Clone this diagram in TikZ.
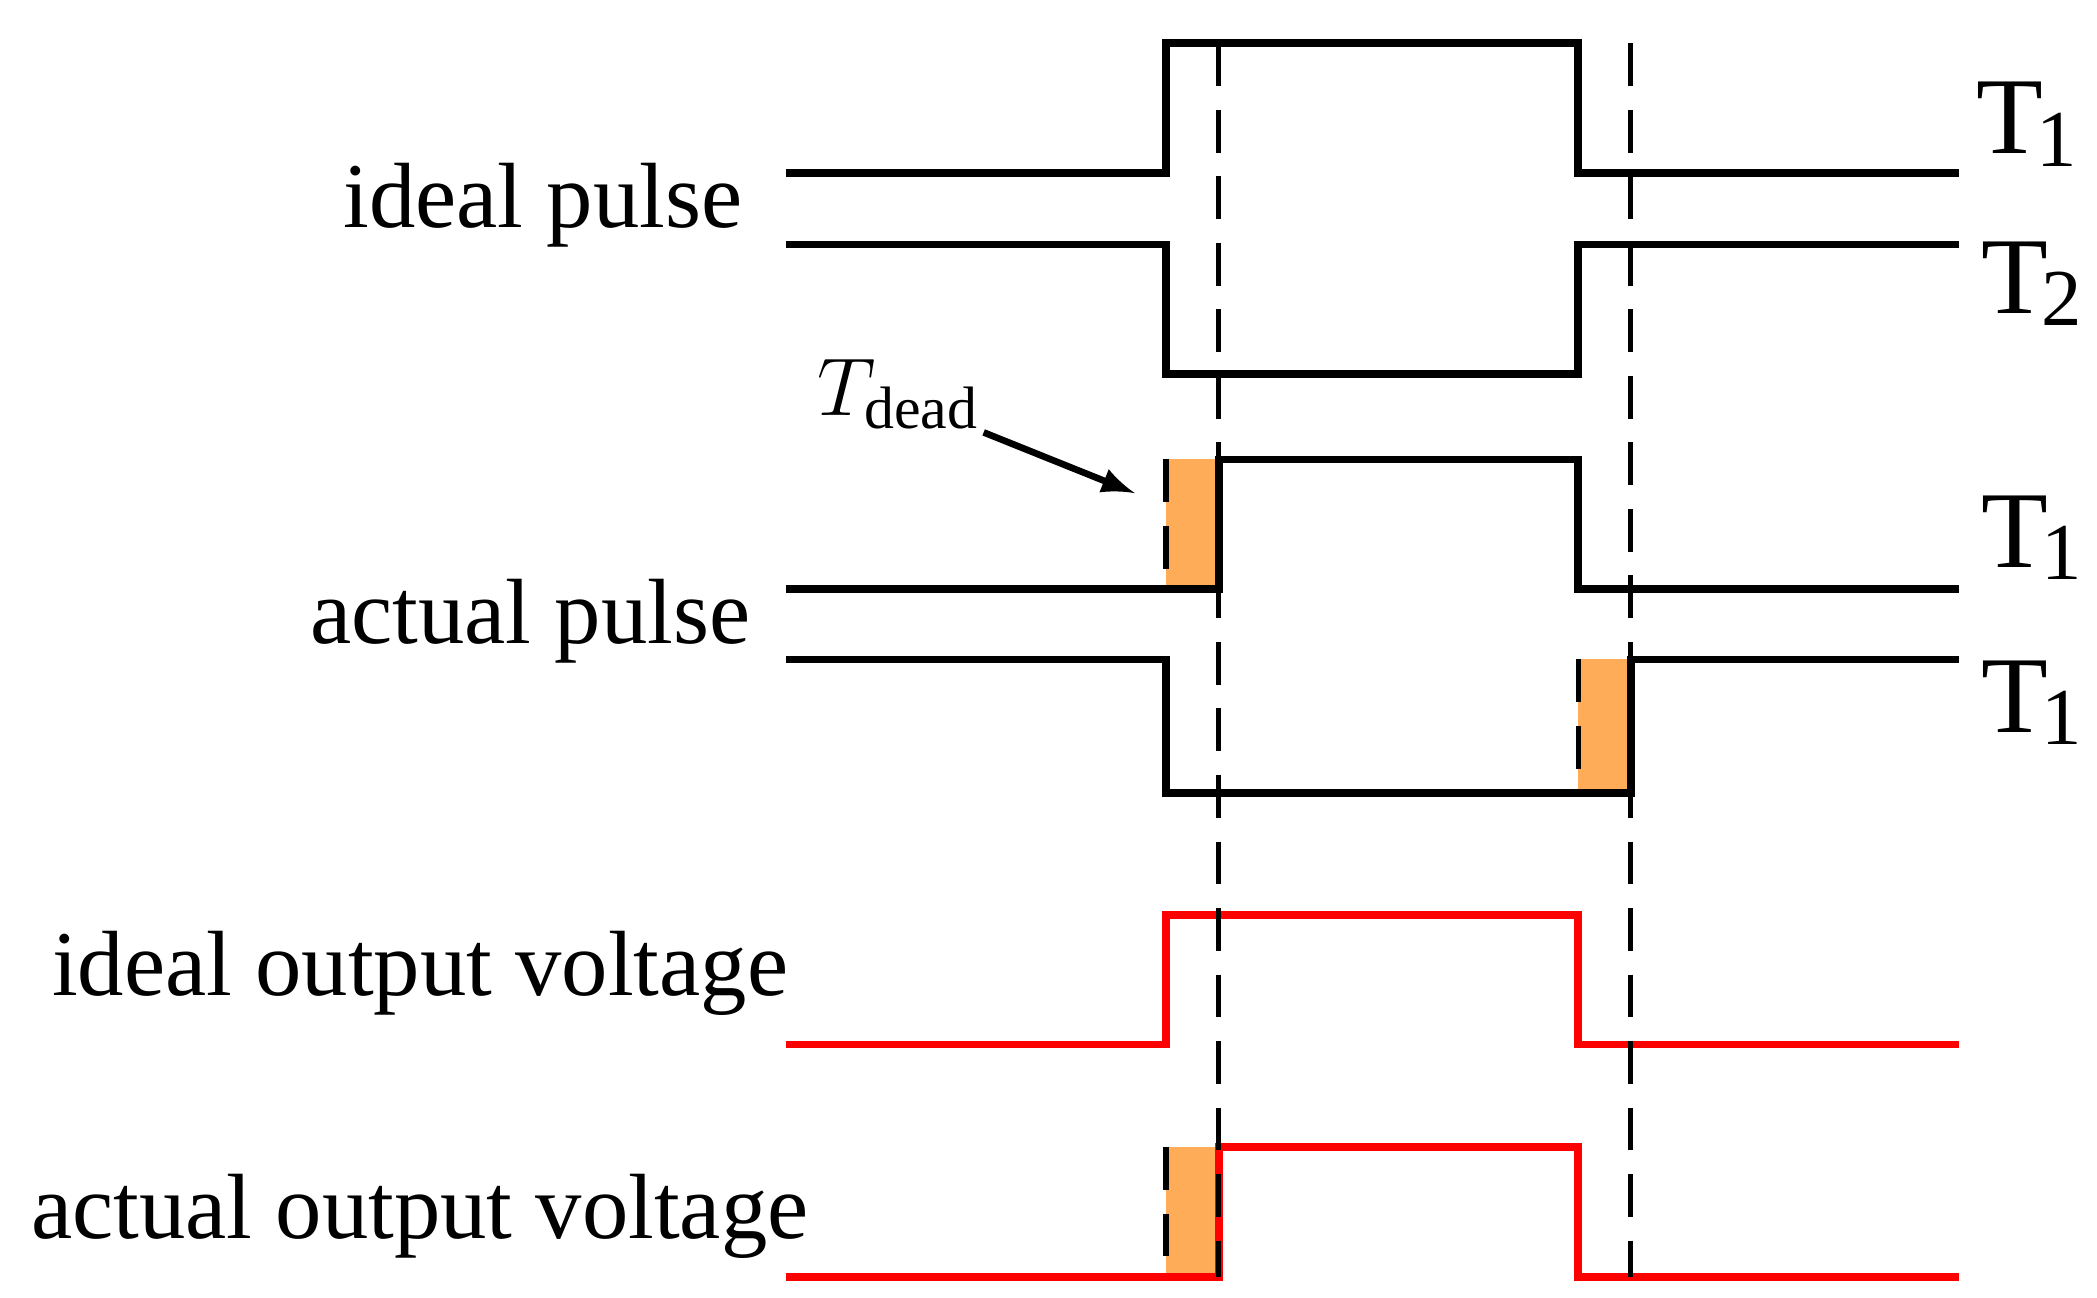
\documentclass[tikz,border=0pt]{standalone}
\usepackage{fontspec}
\setmainfont{Liberation Serif}
\newcommand{\tsub}[2]{#1\kern-1.5pt\raisebox{-0.25ex}{\fontsize{17}{17}\selectfont #2}}
\begin{document}
\begin{tikzpicture}[x=0.01cm,y=-0.01cm,
  wave/.style={line width=1.6pt,black},
  rwave/.style={line width=1.6pt,red},
  dead/.style={fill=orange!65!white,draw=none},
  guide/.style={dashed,line width=1.1pt,dash pattern=on 9pt off 5pt},
  lab/.style={font=\fontsize{19.5}{22}\selectfont,inner sep=0pt},
  tl/.style={font=\fontsize{23}{28}\selectfont,inner sep=0pt,anchor=west}]
\useasboundingbox (0,0) rectangle (1552,960);
% orange dead-time blocks
\fill[dead] (863,340) rectangle (902,436);
\fill[dead] (1168,488) rectangle (1207,587);
\fill[dead] (863,849) rectangle (902,945);
% waveforms
\draw[wave] (582,128) -- (863,128) -- (863,32) -- (1168,32) -- (1168,128) -- (1450,128);
\draw[wave] (582,181) -- (863,181) -- (863,277) -- (1168,277) -- (1168,181) -- (1450,181);
\draw[wave] (582,436) -- (902,436) -- (902,340) -- (1168,340) -- (1168,436) -- (1450,436);
\draw[wave] (582,488) -- (863,488) -- (863,587) -- (1207,587) -- (1207,488) -- (1450,488);
\draw[rwave] (582,773) -- (863,773) -- (863,677) -- (1168,677) -- (1168,773) -- (1450,773);
\draw[rwave] (582,945) -- (902,945) -- (902,849) -- (1168,849) -- (1168,945) -- (1450,945);
% dashed guides
\draw[guide] (902,32) -- (902,945);
\draw[guide] (1207,32) -- (1207,945);
\draw[guide] (863,340) -- (863,436);
\draw[guide] (1168,488) -- (1168,587);
\draw[guide] (863,849) -- (863,945);
% labels
\node[lab,anchor=east] (ip) at (550,152) {ideal pulse};
\node[lab,anchor=east] (ap) at (556,460) {actual pulse};
\node[lab,anchor=east] (iov) at (584,720) {ideal output voltage};
\node[lab,anchor=east] (aov) at (599,900) {actual output voltage};
\node[tl] (t1a) at (1462,92) {\tsub{T}{1}};
\node[tl] (t2a) at (1466,210) {\tsub{T}{2}};
\node[tl] (t1b) at (1466,398) {\tsub{T}{1}};
\node[tl] (t1c) at (1466,520) {\tsub{T}{1}};
\node[inner sep=0pt,font=\fontsize{18}{20}\selectfont] (td) at (665,292) {$T_{\mathrm{dead}}$};
\coordinate (tdend) at (840,365);
\draw[-latex,line width=1.4pt] (728,320) -- (tdend);
\end{tikzpicture}
\end{document}
